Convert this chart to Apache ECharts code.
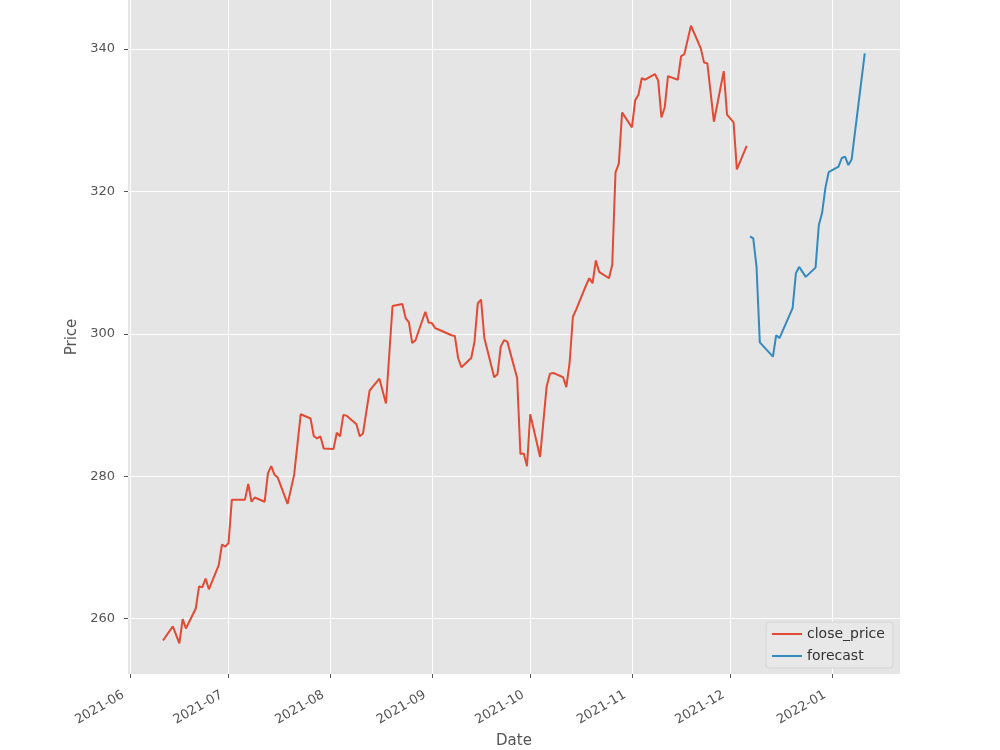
<!DOCTYPE html>
<html>
<head>
<meta charset="utf-8">
<script src="https://cdn.jsdelivr.net/npm/echarts@6/dist/echarts.min.js"></script>
<style>
  html, body { margin: 0; padding: 0; background: #fff; }
  #chart { width: 1000px; height: 750px; }
</style>
</head>
<body>
<div id="chart"></div>
<script>
const closeDates = [
  '2021-06-11','2021-06-14','2021-06-16','2021-06-17','2021-06-18','2021-06-21','2021-06-22','2021-06-23','2021-06-24','2021-06-25',
  '2021-06-28','2021-06-29','2021-06-30','2021-07-01','2021-07-02','2021-07-06','2021-07-07','2021-07-08','2021-07-09','2021-07-12',
  '2021-07-13','2021-07-14','2021-07-15','2021-07-16','2021-07-19','2021-07-21','2021-07-23','2021-07-26','2021-07-27','2021-07-28',
  '2021-07-29','2021-07-30','2021-08-02','2021-08-03','2021-08-04','2021-08-05','2021-08-06','2021-08-09','2021-08-10','2021-08-11',
  '2021-08-13','2021-08-16','2021-08-18','2021-08-20','2021-08-23','2021-08-24','2021-08-25','2021-08-26','2021-08-27','2021-08-30',
  '2021-08-31','2021-09-01','2021-09-02','2021-09-03','2021-09-07','2021-09-08','2021-09-09','2021-09-10','2021-09-13','2021-09-14',
  '2021-09-15','2021-09-16','2021-09-17','2021-09-20','2021-09-21','2021-09-22','2021-09-23','2021-09-24','2021-09-27','2021-09-28',
  '2021-09-29','2021-09-30','2021-10-01','2021-10-04','2021-10-06','2021-10-07','2021-10-08','2021-10-11','2021-10-12','2021-10-13',
  '2021-10-14','2021-10-15','2021-10-18','2021-10-19','2021-10-20','2021-10-21','2021-10-22','2021-10-25','2021-10-26','2021-10-27',
  '2021-10-28','2021-10-29','2021-11-01','2021-11-02','2021-11-03','2021-11-04','2021-11-05','2021-11-08','2021-11-09','2021-11-10',
  '2021-11-11','2021-11-12','2021-11-15','2021-11-16','2021-11-17','2021-11-19','2021-11-22','2021-11-23','2021-11-24','2021-11-26',
  '2021-11-29','2021-11-30','2021-12-02','2021-12-03','2021-12-06'
];
const closeValues = [
  256.9, 258.9, 256.5, 259.9, 258.6, 261.4, 264.5, 264.4, 265.6, 264.1,
  267.5, 270.4, 270.1, 270.6, 276.7, 276.7, 278.9, 276.4, 277.0, 276.4,
  280.4, 281.4, 280.2, 279.8, 276.1, 280.2, 288.7, 288.1, 285.6, 285.3,
  285.6, 283.9, 283.8, 286.1, 285.6, 288.6, 288.5, 287.3, 285.6, 286.0,
  292.0, 293.7, 290.2, 303.9, 304.2, 302.2, 301.6, 298.7, 299.1, 303.1,
  301.6, 301.5, 300.8, 300.6, 299.8, 299.7, 296.6, 295.3, 296.6, 298.9,
  304.3, 304.8, 299.4, 293.9, 294.3, 298.2, 299.1, 298.9, 293.8, 283.1,
  283.2, 281.4, 288.7, 282.7, 292.6, 294.4, 294.5, 293.9, 292.5, 295.9,
  302.4, 303.4, 306.8, 307.8, 307.1, 310.3, 308.7, 307.8, 309.7, 322.7,
  323.9, 331.1, 329.0, 332.8, 333.6, 335.9, 335.7, 336.5, 335.6, 330.4,
  331.8, 336.2, 335.7, 339.0, 339.3, 343.3, 340.1, 338.1, 338.0, 329.8,
  336.9, 330.8, 329.7, 323.1, 326.4
];

const forecastDates = [
  '2021-12-07','2021-12-08','2021-12-09','2021-12-10','2021-12-14','2021-12-15','2021-12-16','2021-12-20','2021-12-21','2021-12-22',
  '2021-12-24','2021-12-27','2021-12-28','2021-12-29','2021-12-30','2021-12-31','2022-01-03','2022-01-04','2022-01-05','2022-01-06',
  '2022-01-07','2022-01-11'
];
const forecastValues = [
  313.7, 313.4, 309.4, 298.8, 296.8, 299.8, 299.4, 303.6, 308.5, 309.4,
  308.0, 309.3, 315.3, 317.0, 320.5, 322.7, 323.5, 324.7, 324.9, 323.7,
  324.5, 339.4
];

const xTickLabels = ['2021-06','2021-07','2021-08','2021-09','2021-10','2021-11','2021-12','2022-01'];
const yTicks = [260, 280, 300, 320, 340];

const xMin = '2021-05-31T08:00';
const xMax = '2022-01-21T18:00';
const yMin = 252.2;
const yMax = 346.9;

const toTime = s => new Date(s).getTime();
const xTicks = xTickLabels.map(m => toTime(m + '-01T00:00'));

const chart = echarts.init(document.getElementById('chart'));

const font = 'DejaVu Sans';
const gray = '#555555';

// x is a plain value axis on timestamps so the month ticks can be pinned with customValues
chart.setOption({
  animation: false,
  backgroundColor: '#ffffff',
  textStyle: { fontFamily: font },
  grid: {
    left: 128,
    right: 100,
    top: 0,
    bottom: 76,
    outerBoundsMode: 'none',
    show: true,
    backgroundColor: '#e5e5e5',
    borderWidth: 0
  },
  legend: {
    orient: 'vertical',
    left: 766,
    top: 622,
    icon: 'rect',
    itemWidth: 30,
    itemHeight: 2,
    itemGap: 6,
    padding: [4, 8, 4, 6],
    backgroundColor: '#e8e8e8',
    borderColor: '#d4d4d4',
    borderWidth: 1,
    borderRadius: 3,
    textStyle: { color: '#333333', fontSize: 14, fontFamily: font, lineHeight: 16 },
    data: ['close_price', 'forecast']
  },
  xAxis: {
    type: 'value',
    min: toTime(xMin),
    max: toTime(xMax),
    name: 'Date',
    nameLocation: 'middle',
    nameGap: 60,
    nameTextStyle: { color: gray, fontSize: 15, fontFamily: font },
    axisLine: { show: false },
    axisTick: { show: true, length: 4, lineStyle: { color: gray }, customValues: xTicks },
    axisLabel: {
      color: gray,
      fontSize: 13,
      fontFamily: font,
      rotate: 30,
      margin: 16,
      padding: [0, 8, 0, 0],
      customValues: xTicks,
      formatter: v => echarts.time.format(v, '{yyyy}-{MM}', false)
    },
    splitLine: { show: true, lineStyle: { color: '#ffffff', width: 1 } }
  },
  yAxis: {
    type: 'value',
    min: yMin,
    max: yMax,
    name: 'Price',
    nameLocation: 'middle',
    nameGap: 41,
    nameTextStyle: { color: gray, fontSize: 15, fontFamily: font },
    axisLine: { show: false },
    axisTick: { show: true, length: 4, lineStyle: { color: gray }, customValues: yTicks },
    axisLabel: { color: gray, fontSize: 13, fontFamily: font, margin: 13, customValues: yTicks },
    splitLine: { show: true, lineStyle: { color: '#ffffff', width: 1 } }
  },
  series: [
    {
      name: 'close_price',
      type: 'line',
      symbol: 'none',
      color: '#E24A33',
      lineStyle: { width: 2, color: '#E24A33' },
      data: closeDates.map((d, i) => [toTime(d + 'T00:00'), closeValues[i]])
    },
    {
      name: 'forecast',
      type: 'line',
      symbol: 'none',
      color: '#348ABD',
      lineStyle: { width: 2, color: '#348ABD' },
      data: forecastDates.map((d, i) => [toTime(d + 'T00:00'), forecastValues[i]])
    }
  ]
});
</script>
</body>
</html>
